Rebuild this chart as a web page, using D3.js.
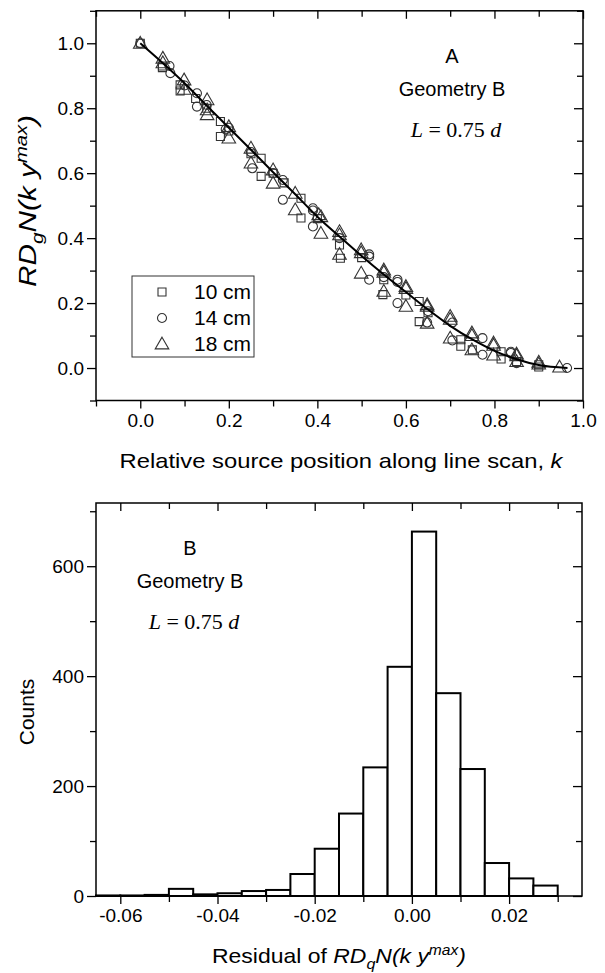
<!DOCTYPE html>
<html>
<head>
<meta charset="utf-8">
<script src="https://cdn.jsdelivr.net/npm/d3@7"></script>
<style>
  body { margin: 0; background: #fff; }
  svg { display: block; font-family: 'Liberation Sans', Arial, sans-serif; }
  .tick text { font-size: 19px; fill: #000; }
  .tick line { stroke: #000; stroke-width: 1.3; }
</style>
</head>
<body>
<svg id="chart" width="605" height="973"></svg>
<script>
"use strict";

// ---- panel A: normalised response vs k ------------------------------------
const fitCurve = [
  [0, 1.0], [0.05, 0.94], [0.1, 0.877], [0.15, 0.808], [0.2, 0.74],
  [0.25, 0.672], [0.3, 0.603], [0.35, 0.535], [0.4, 0.466], [0.45, 0.405],
  [0.5, 0.345], [0.55, 0.288], [0.6, 0.234], [0.65, 0.18], [0.7, 0.13],
  [0.75, 0.088], [0.8, 0.053], [0.85, 0.027], [0.9, 0.009], [0.965, 0.0]
];

const squares10 = [
  [0, 1.0], [0.05, 0.93], [0.05, 0.925], [0.09, 0.872], [0.09, 0.853],
  [0.125, 0.83], [0.15, 0.8], [0.181, 0.759], [0.181, 0.713], [0.2, 0.73],
  [0.25, 0.66], [0.273, 0.646], [0.273, 0.59], [0.3, 0.6], [0.325, 0.57],
  [0.363, 0.523], [0.363, 0.462], [0.4, 0.46], [0.45, 0.379], [0.452, 0.338],
  [0.5, 0.34], [0.55, 0.272], [0.548, 0.226], [0.6, 0.225], [0.63, 0.205],
  [0.63, 0.143], [0.65, 0.17], [0.724, 0.087], [0.724, 0.067], [0.75, 0.056],
  [0.815, 0.05], [0.815, 0.028], [0.85, 0.02], [0.9, 0.003], [0.9, 0.01]
];

const circles14 = [
  [0, 1.0], [0.066, 0.93], [0.068, 0.908], [0.1, 0.87], [0.128, 0.846],
  [0.128, 0.805], [0.15, 0.81], [0.193, 0.735], [0.2, 0.74], [0.253, 0.615],
  [0.25, 0.665], [0.322, 0.579], [0.322, 0.518], [0.3, 0.6], [0.39, 0.492],
  [0.39, 0.485], [0.39, 0.436], [0.45, 0.4], [0.517, 0.343], [0.517, 0.35],
  [0.517, 0.272], [0.55, 0.28], [0.581, 0.272], [0.581, 0.265], [0.581, 0.2],
  [0.648, 0.14], [0.65, 0.175], [0.705, 0.14], [0.705, 0.085], [0.773, 0.092],
  [0.773, 0.041], [0.837, 0.046], [0.837, 0.05], [0.85, 0.015], [0.964, 0.0]
];

const triangles18 = [
  [0, 1.0], [0.051, 0.954], [0.051, 0.94], [0.099, 0.887], [0.099, 0.858],
  [0.151, 0.826], [0.151, 0.795], [0.151, 0.78], [0.2, 0.743], [0.2, 0.708],
  [0.25, 0.677], [0.25, 0.631], [0.3, 0.61], [0.3, 0.569], [0.35, 0.538],
  [0.35, 0.487], [0.403, 0.472], [0.408, 0.466], [0.408, 0.415], [0.45, 0.42],
  [0.45, 0.41], [0.45, 0.35], [0.499, 0.364], [0.499, 0.355], [0.499, 0.292],
  [0.55, 0.302], [0.55, 0.295], [0.55, 0.236], [0.6, 0.251], [0.6, 0.245],
  [0.6, 0.19], [0.648, 0.195], [0.648, 0.19], [0.648, 0.138], [0.7, 0.159],
  [0.7, 0.15], [0.7, 0.092], [0.749, 0.108], [0.749, 0.1], [0.749, 0.056],
  [0.798, 0.077], [0.798, 0.07], [0.798, 0.04], [0.85, 0.043], [0.85, 0.038],
  [0.85, 0.02], [0.9, 0.018], [0.9, 0.012], [0.947, 0.003]
];

const legendLabels = ["10 cm", "14 cm", "18 cm"];

const kMajor = [0, 0.2, 0.4, 0.6, 0.8, 1.0];
const kMinor = [-0.1, 0.1, 0.3, 0.5, 0.7, 0.9];
const rMajor = [0, 0.2, 0.4, 0.6, 0.8, 1.0];
const rMinor = [-0.1, 0.1, 0.3, 0.5, 0.7, 0.9, 1.1];

// ---- panel B: histogram of residuals ---------------------------------------
const binLeft = [-0.065, -0.06, -0.055, -0.05, -0.045, -0.04, -0.035, -0.03, -0.025,
  -0.02, -0.015, -0.01, -0.005, 0, 0.005, 0.01, 0.015, 0.02, 0.025];
const binCounts = [1, 1, 2, 13, 3, 5, 9, 11, 40, 86, 150, 234, 417, 663, 369, 231, 60, 32, 19];
const binWidth = 0.005;

const resMajor = [-0.06, -0.04, -0.02, 0, 0.02];
const resMinor = [-0.05, -0.03, -0.01, 0.01, 0.03];
const cntMajor = [0, 200, 400, 600];
const cntMinor = [100, 300, 500, 700];

const svg = d3.select("#chart");

/*-- shared helpers ----------------------------------------------------------*/
const frame = function(x, y){
  const [x0, x1] = x.range();
  const [y0, y1] = y.range();
  svg.append("rect")
     .attr("x", x0).attr("y", y1)
     .attr("width", x1 - x0).attr("height", y0 - y1)
     .attr("fill", "none")
     .attr("stroke", "#000")
     .attr("stroke-width", 1.5);
};

const addAxis = function(axis, tx, ty){
  const g = svg.append("g")
               .attr("transform", "translate(" + tx + "," + ty + ")")
               .call(axis);
  g.select(".domain").remove();
  return g;
};

const drawAxes = function(x, y, xMaj, xMin, yMaj, yMin, xFmt, yFmt){
  const [x0, x1] = x.range();
  const [y0, y1] = y.range();
  // outward on left and bottom
  addAxis(d3.axisBottom(x).tickValues(xMaj).tickSize(8).tickPadding(5).tickFormat(xFmt), 0, y0);
  addAxis(d3.axisBottom(x).tickValues(xMin).tickSize(6).tickFormat(""), 0, y0);
  addAxis(d3.axisLeft(y).tickValues(yMaj).tickSize(9).tickPadding(3).tickFormat(yFmt), x0, 0);
  addAxis(d3.axisLeft(y).tickValues(yMin).tickSize(6).tickFormat(""), x0, 0);
  // inward on top and right
  addAxis(d3.axisBottom(x).tickValues(xMaj).tickSize(8).tickFormat(""), 0, y1);
  addAxis(d3.axisBottom(x).tickValues(xMin).tickSize(6).tickFormat(""), 0, y1);
  addAxis(d3.axisLeft(y).tickValues(yMaj).tickSize(9).tickFormat(""), x1, 0);
  addAxis(d3.axisLeft(y).tickValues(yMin).tickSize(6).tickFormat(""), x1, 0);
};

// italic label "RD_sub N(k y^max)" built from tspans
const rdLabel = function(t, sub, fs, prefix){
  if (prefix) t.append("tspan").style("font-style", "normal").text(prefix);
  t.append("tspan").text("RD");
  t.append("tspan").attr("dy", fs * 0.3).style("font-size", (fs * 0.7) + "px").text(sub);
  t.append("tspan").attr("dy", -fs * 0.3).text("N(k y");
  t.append("tspan").attr("dy", -fs * 0.4).style("font-size", (fs * 0.68) + "px").text("max");
  t.append("tspan").attr("dy", fs * 0.4).text(")");
};

const note = function(x, y, lines){
  svg.append("text").attr("x", x).attr("y", y).attr("text-anchor", "middle")
     .style("font-size", "20px").text(lines[0]);
  svg.append("text").attr("x", x).attr("y", y + 33).attr("text-anchor", "middle")
     .style("font-size", "20px").text(lines[1]);
  const t = svg.append("text").attr("x", x + 4).attr("y", y + 74).attr("text-anchor", "middle")
     .style("font-family", "'Liberation Serif', 'Times New Roman', serif")
     .style("font-size", "22px");
  t.append("tspan").style("font-style", "italic").text(lines[2][0]);
  t.append("tspan").text(lines[2][1]);
  t.append("tspan").style("font-style", "italic").text(lines[2][2]);
};

/*-- panel A -----------------------------------------------------------------*/
const xA = d3.scaleLinear().domain([-0.1, 1.0]).range([96, 583]);
const yA = d3.scaleLinear().domain([-0.1, 1.1]).range([400.5, 10.8]);

const symbolPath = {
  sq: d3.symbol().type(d3.symbolSquare).size(64)(),
  ci: d3.symbol().type(d3.symbolCircle).size(64)(),
  tr: d3.symbol().type(d3.symbolTriangle).size(80)()
};

const plotSeries = function(data, key){
  svg.append("g")
     .selectAll("path")
     .data(data)
     .enter()
     .append("path")
     .attr("d", symbolPath[key])
     .attr("transform", function(d){
        const dy = (key === 'tr') ? 1 : 0;
        return "translate(" + xA(d[0]) + "," + (yA(d[1]) + dy) + ")";
     })
     .attr("fill", "none")
     .attr("stroke", "#333")
     .attr("stroke-width", 1.1);
};

plotSeries(squares10, 'sq');
plotSeries(circles14, 'ci');
plotSeries(triangles18, 'tr');

svg.append("path")
   .datum(fitCurve)
   .attr("d", d3.line().curve(d3.curveMonotoneX)
                .x(function(d){ return xA(d[0]); })
                .y(function(d){ return yA(d[1]); }))
   .attr("fill", "none")
   .attr("stroke", "#000")
   .attr("stroke-width", 2);

frame(xA, yA);
drawAxes(xA, yA, kMajor, kMinor, rMajor, rMinor,
         function(d){ return d.toFixed(1); }, function(d){ return d.toFixed(1); });

// legend
svg.append("rect").attr("x", 132).attr("y", 276).attr("width", 122).attr("height", 81)
   .attr("fill", "#fff").attr("stroke", "#333").attr("stroke-width", 1);
const legendKeys = ['sq', 'ci', 'tr'];
legendLabels.forEach(function(lab, i){
  const cy = 292 + i * 26;
  svg.append("path").attr("d", symbolPath[legendKeys[i]])
     .attr("transform", "translate(162," + (cy + (i === 2 ? 1 : 0)) + ")")
     .attr("fill", "none").attr("stroke", "#333").attr("stroke-width", 1.1);
  svg.append("text").attr("x", 194).attr("y", cy + 7)
     .attr("textLength", 57).attr("lengthAdjust", "spacingAndGlyphs")
     .style("font-size", "20px").text(lab);
});

note(452, 63, ["A", "Geometry B", ["L", " = 0.75 ", "d"]]);

const yTitleA = svg.append("text")
   .attr("transform", "translate(36,201) rotate(-90)")
   .attr("text-anchor", "middle")
   .attr("textLength", 172).attr("lengthAdjust", "spacingAndGlyphs")
   .style("font-size", "23px").style("font-style", "italic");
rdLabel(yTitleA, "g", 23);

const xTitleA = svg.append("text").attr("x", 341).attr("y", 468)
   .attr("text-anchor", "middle")
   .attr("textLength", 443).attr("lengthAdjust", "spacingAndGlyphs")
   .style("font-size", "21px");
xTitleA.append("tspan").text("Relative source position along line scan, ");
xTitleA.append("tspan").style("font-style", "italic").text("k");

/*-- panel B -----------------------------------------------------------------*/
const xB = d3.scaleLinear().domain([-0.065, 0.035]).range([96, 582]);
const yB = d3.scaleLinear().domain([0, 715]).range([896, 503]);

svg.append("g")
   .selectAll("rect")
   .data(binLeft)
   .enter()
   .append("rect")
   .attr("x", function(d){ return xB(d); })
   .attr("width", function(d){ return xB(d + binWidth) - xB(d); })
   .attr("y", function(d, i){ return yB(binCounts[i]); })
   .attr("height", function(d, i){ return yB(0) - yB(binCounts[i]); })
   .attr("fill", "#fff")
   .attr("stroke", "#000")
   .attr("stroke-width", 2);

frame(xB, yB);
drawAxes(xB, yB, resMajor, resMinor, cntMajor, cntMinor,
         function(d){ return d.toFixed(2); }, function(d){ return String(d); });

note(190, 555, ["B", "Geometry B", ["L", " = 0.75 ", "d"]]);

svg.append("text")
   .attr("transform", "translate(34,712) rotate(-90)")
   .attr("text-anchor", "middle")
   .style("font-size", "21px").text("Counts");

const xTitleB = svg.append("text").attr("x", 339).attr("y", 963)
   .attr("text-anchor", "middle")
   .attr("textLength", 254).attr("lengthAdjust", "spacingAndGlyphs")
   .style("font-size", "21px").style("font-style", "italic");
rdLabel(xTitleB, "q", 21, "Residual of ");
</script>
</body>
</html>
